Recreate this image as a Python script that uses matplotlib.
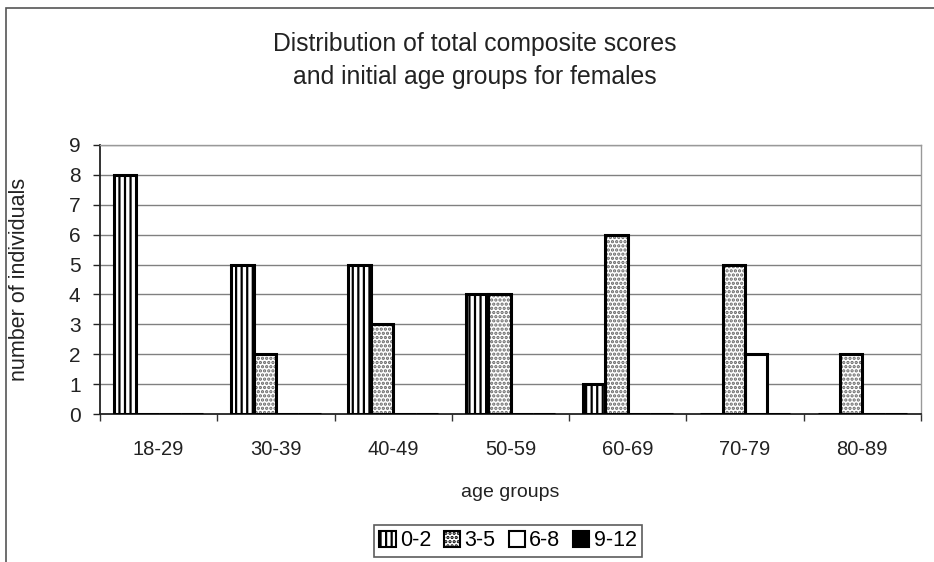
import matplotlib
matplotlib.use("Agg")
import matplotlib.pyplot as plt
from matplotlib.patches import Rectangle
import numpy as np

plt.rcParams['font.family'] = ['Liberation Sans', 'DejaVu Sans']
plt.rcParams['hatch.linewidth'] = 1.6

categories = ["18-29", "30-39", "40-49", "50-59", "60-69", "70-79", "80-89"]
series_names = ["0-2", "3-5", "6-8", "9-12"]
scores_0_2 = [8, 5, 5, 4, 1, 0, 0]
scores_3_5 = [0, 2, 3, 4, 6, 5, 2]
scores_6_8 = [0, 0, 0, 0, 0, 2, 0]
scores_9_12 = [0, 0, 0, 0, 0, 0, 0]
y_ticks = list(range(0, 10))

series_values = [scores_0_2, scores_3_5, scores_6_8, scores_9_12]
styles = [
    dict(facecolor="white", hatch="|||", hatch_color="black"),
    dict(facecolor="white", hatch="....", hatch_color="#666666"),
    dict(facecolor="white", hatch=None, hatch_color="black"),
    dict(facecolor="black", hatch=None, hatch_color="black"),
]

fig = plt.figure(figsize=(9.34, 5.62), dpi=100)
# outer chart frame
fig.add_artist(Rectangle((6 / 934, -0.1), 1.2, 1 - 8 / 562 + 0.1,
                         transform=fig.transFigure, fill=False,
                         edgecolor="#555555", linewidth=1.2))

ax = fig.add_axes([100 / 934, 1 - 414 / 562, 821 / 934, 269 / 562])

x = np.arange(len(categories))
bw = 0.191
handles = []
for i, (vals, st) in enumerate(zip(series_values, styles)):
    pos = x + (i - 1.5) * bw
    # fill + pattern (pattern colour follows the edge colour)
    ax.bar(pos, vals, width=bw, facecolor=st["facecolor"], hatch=st["hatch"],
           edgecolor=st["hatch_color"], linewidth=0, zorder=3)
    # black outline on top
    ax.bar(pos, vals, width=bw, fill=False, edgecolor="black",
           linewidth=2.2, zorder=4)
    handles.append(Rectangle((0, 0), 1, 1, facecolor=st["facecolor"],
                             hatch=st["hatch"], edgecolor="black",
                             linewidth=1.5, label=series_names[i]))

ax.set_xlim(-0.5, len(categories) - 0.5)
ax.set_ylim(0, 9)
ax.set_yticks(y_ticks)
ax.set_xticks(x)
ax.set_xticklabels(categories)
ax.set_xticks(np.arange(len(categories) + 1) - 0.5, minor=True)
ax.tick_params(axis="x", which="major", length=0, pad=19, labelsize=14.5,
               colors="#222222")
ax.tick_params(axis="x", which="minor", length=5, width=1, color="#333333")
ax.tick_params(axis="y", which="major", length=5, width=1, pad=9,
               labelsize=15, colors="#222222")
ax.yaxis.grid(True, color="#808080", linewidth=1.0, zorder=0)
for side in ("left", "bottom"):
    ax.spines[side].set_color("#222222")
    ax.spines[side].set_linewidth(1.3)
for side in ("top", "right"):
    ax.spines[side].set_color("#999999")
    ax.spines[side].set_linewidth(1.0)

ax.set_xlabel("age groups", fontsize=14, color="#222222", labelpad=18)
ax.set_ylabel("number of individuals", fontsize=15.5, color="#222222")
ax.yaxis.set_label_coords(-0.085, 0.5)

fig.text(475 / 934, 1 - 60.5 / 562,
         "Distribution of total composite scores\nand initial age groups for females",
         ha="center", va="center", fontsize=17.8, color="#222222",
         linespacing=1.52)

leg = ax.legend(handles=handles, loc="center",
                bbox_to_anchor=(508 / 934, 1 - 541 / 562),
                bbox_transform=fig.transFigure, ncol=4, frameon=True,
                fancybox=False, edgecolor="#333333", fontsize=15.5,
                handlelength=0.75, handleheight=0.75, handletextpad=0.2,
                columnspacing=0.6, borderpad=0.25, borderaxespad=0)
leg.get_frame().set_linewidth(1.2)

fig.savefig("out.png", dpi=100)
